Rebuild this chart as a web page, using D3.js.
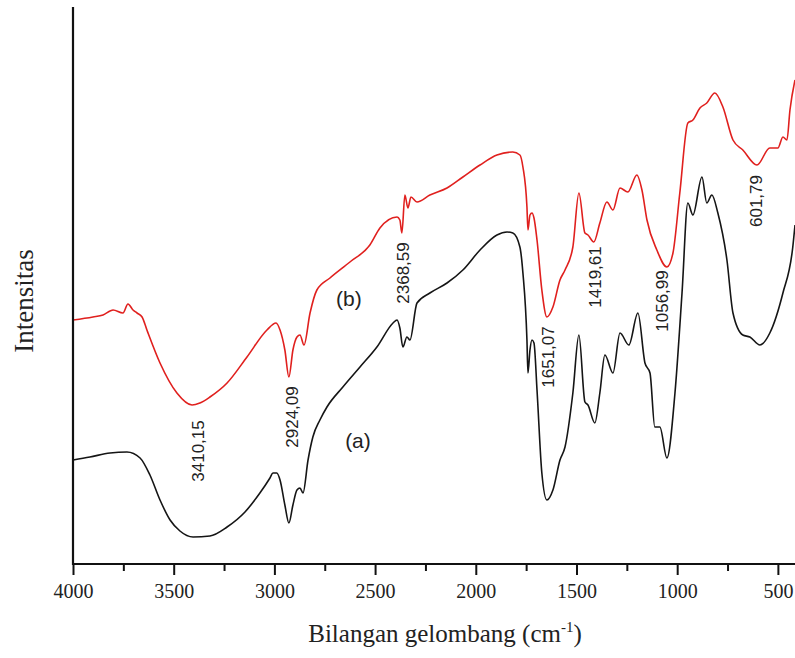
<!DOCTYPE html>
<html>
<head>
<meta charset="utf-8">
<script src="https://cdn.jsdelivr.net/npm/d3@7"></script>
<style>
  html, body { margin: 0; padding: 0; background: #fff; }
  svg { display: block; }
</style>
</head>
<body>
<svg id="chart" width="795" height="658"></svg>
<script>
// ---- Data (wavenumber in cm^-1, intensity in arbitrary units) ----
const wavenumbersA = [4000,3916,3816,3732,3667,3618,3568,3518,3469,3404,3320,3235,3146,3072,3022,3007,2988,2972,2948,2928,2908,2888,2873,2858,2833,2809,2774,2739,2660,2575,2491,2411,2391,2377,2362,2342,2327,2292,2228,2143,2064,1979,1895,1845,1816,1781,1766,1746,1741,1731,1721,1711,1696,1672,1647,1617,1582,1557,1518,1488,1458,1443,1409,1384,1359,1319,1284,1240,1195,1160,1135,1111,1086,1051,1011,976,947,922,877,853,828,798,753,723,674,639,589,540,475,426,415];
const intensityA   = [104,107,111,112,106,89,64,44,33,27,28,37,52,71,86,91,91,84,59,41,59,74,76,71,104,127,144,157,177,197,217,241,244,236,217,227,224,261,271,281,294,314,329,332,331,317,291,224,191,214,224,221,174,91,64,74,104,117,171,229,162,159,141,171,209,191,231,219,251,201,191,137,137,106,171,271,361,349,387,361,369,351,304,251,229,227,219,231,271,317,339];

const wavenumbersB = [4000,3901,3851,3801,3752,3727,3702,3682,3657,3633,3568,3484,3409,3370,3320,3235,3136,3037,2992,2972,2948,2928,2908,2888,2873,2853,2823,2789,2724,2625,2526,2476,2391,2377,2367,2352,2337,2322,2292,2228,2143,2064,1979,1895,1816,1781,1766,1746,1741,1731,1721,1711,1696,1672,1647,1617,1582,1557,1518,1488,1458,1443,1414,1384,1349,1319,1284,1245,1200,1175,1150,1101,1051,1021,987,947,922,887,853,813,773,723,674,604,540,500,475,455,440,415];
const intensityB   = [244,247,249,254,251,260,254,251,247,234,201,171,159,161,167,181,207,234,241,234,214,187,214,227,229,219,251,274,286,302,319,336,347,344,331,369,356,367,362,369,376,387,399,409,412,409,397,357,334,349,351,346,324,274,247,257,284,294,317,371,331,329,322,341,362,354,376,372,389,374,344,314,297,311,371,441,444,456,461,471,457,424,414,399,416,416,427,424,454,484];

const xTicksMajor = [4000,3500,3000,2500,2000,1500,1000,500];
const xTicksMinor = [3750,3250,2750,2250,1750,1250,750];

const peakLabels = [
  {text: "3410,15", wn: 3376, y: 451},
  {text: "2924,09", wn: 2911, y: 417},
  {text: "2368,59", wn: 2357, y: 273},
  {text: "1651,07", wn: 1637, y: 357},
  {text: "1419,61", wn: 1404, y: 277},
  {text: "1056,99", wn: 1071, y: 301},
  {text: "601,79",  wn: 604,  y: 201}
];
const seriesLabels = [
  {text: "(b)", wn: 2630, y: 298},
  {text: "(a)", wn: 2585, y: 440}
];

// ---- Scales ----
const svg = d3.select("#chart");
const x = d3.scaleLinear().domain([4000, 415]).range([73, 795]);
const y = d3.scaleLinear().domain([0, 557]).range([564, 7]);

const SERIF = "'Liberation Serif', 'Times New Roman', Times, serif";
const SANS = "'Liberation Sans', Arial, Helvetica, sans-serif";

// ---- Curves ----
const line = d3.line()
  .x(d => x(d[0]))
  .y(d => y(d[1]))
  .curve(d3.curveMonotoneX);

const dataA = wavenumbersA.map((w, i) => [w, intensityA[i]]);
const dataB = wavenumbersB.map((w, i) => [w, intensityB[i]]);

svg.append("path").datum(dataB)
  .attr("d", line).attr("fill", "none")
  .attr("stroke", "#e0201e").attr("stroke-width", 1.6)
  .attr("stroke-linejoin", "round");

svg.append("path").datum(dataA)
  .attr("d", line).attr("fill", "none")
  .attr("stroke", "#151515").attr("stroke-width", 1.6)
  .attr("stroke-linejoin", "round");

// ---- Axes ----
const xAxisMajor = d3.axisBottom(x).tickValues(xTicksMajor).tickSize(11).tickPadding(9).tickFormat(d3.format("d"));
const gx = svg.append("g").attr("transform", "translate(0,564)").call(xAxisMajor);
gx.attr("font-family", null).attr("font-size", null);
gx.select(".domain").remove();
gx.selectAll(".tick line").attr("stroke", "#111").attr("stroke-width", 2);
gx.selectAll(".tick text")
  .style("font-family", SERIF)
  .style("font-size", "20px").attr("fill", "#222");

const xAxisMinor = d3.axisBottom(x).tickValues(xTicksMinor).tickSize(7).tickFormat("");
const gxm = svg.append("g").attr("transform", "translate(0,564)").call(xAxisMinor);
gxm.select(".domain").remove();
gxm.selectAll(".tick line").attr("stroke", "#111").attr("stroke-width", 2);

// axis lines
svg.append("line").attr("x1", 73).attr("x2", 795).attr("y1", 564).attr("y2", 564)
  .attr("stroke", "#111").attr("stroke-width", 2.2);
svg.append("line").attr("x1", 73).attr("x2", 73).attr("y1", 7).attr("y2", 565)
  .attr("stroke", "#111").attr("stroke-width", 2.2);

// ---- Axis titles ----
const title = svg.append("text")
  .attr("x", 445).attr("y", 642)
  .attr("text-anchor", "middle")
  .style("font-family", SERIF)
  .style("font-size", "25px").attr("fill", "#222");
title.append("tspan").text("Bilangan gelombang (cm");
title.append("tspan").style("font-size", "15px").attr("dy", -10).text("-1");
title.append("tspan").attr("dy", 10).text(")");

svg.append("text")
  .attr("transform", "translate(33,301) rotate(-90)")
  .attr("text-anchor", "middle")
  .style("font-family", SERIF)
  .style("font-size", "27px").attr("fill", "#222")
  .text("Intensitas");

// ---- Peak labels ----
svg.selectAll(".peak").data(peakLabels).enter().append("text")
  .attr("class", "peak")
  .attr("transform", d => `translate(${x(d.wn)},${d.y}) rotate(-90)`)
  .attr("text-anchor", "middle")
  .attr("dominant-baseline", "central")
  .style("font-family", SANS)
  .style("font-size", "17px").attr("fill", "#222")
  .text(d => d.text);

svg.selectAll(".slabel").data(seriesLabels).enter().append("text")
  .attr("class", "slabel")
  .attr("x", d => x(d.wn)).attr("y", d => d.y)
  .attr("text-anchor", "middle")
  .attr("dominant-baseline", "central")
  .style("font-family", SANS)
  .style("font-size", "21px").attr("fill", "#222")
  .text(d => d.text);
</script>
</body>
</html>
